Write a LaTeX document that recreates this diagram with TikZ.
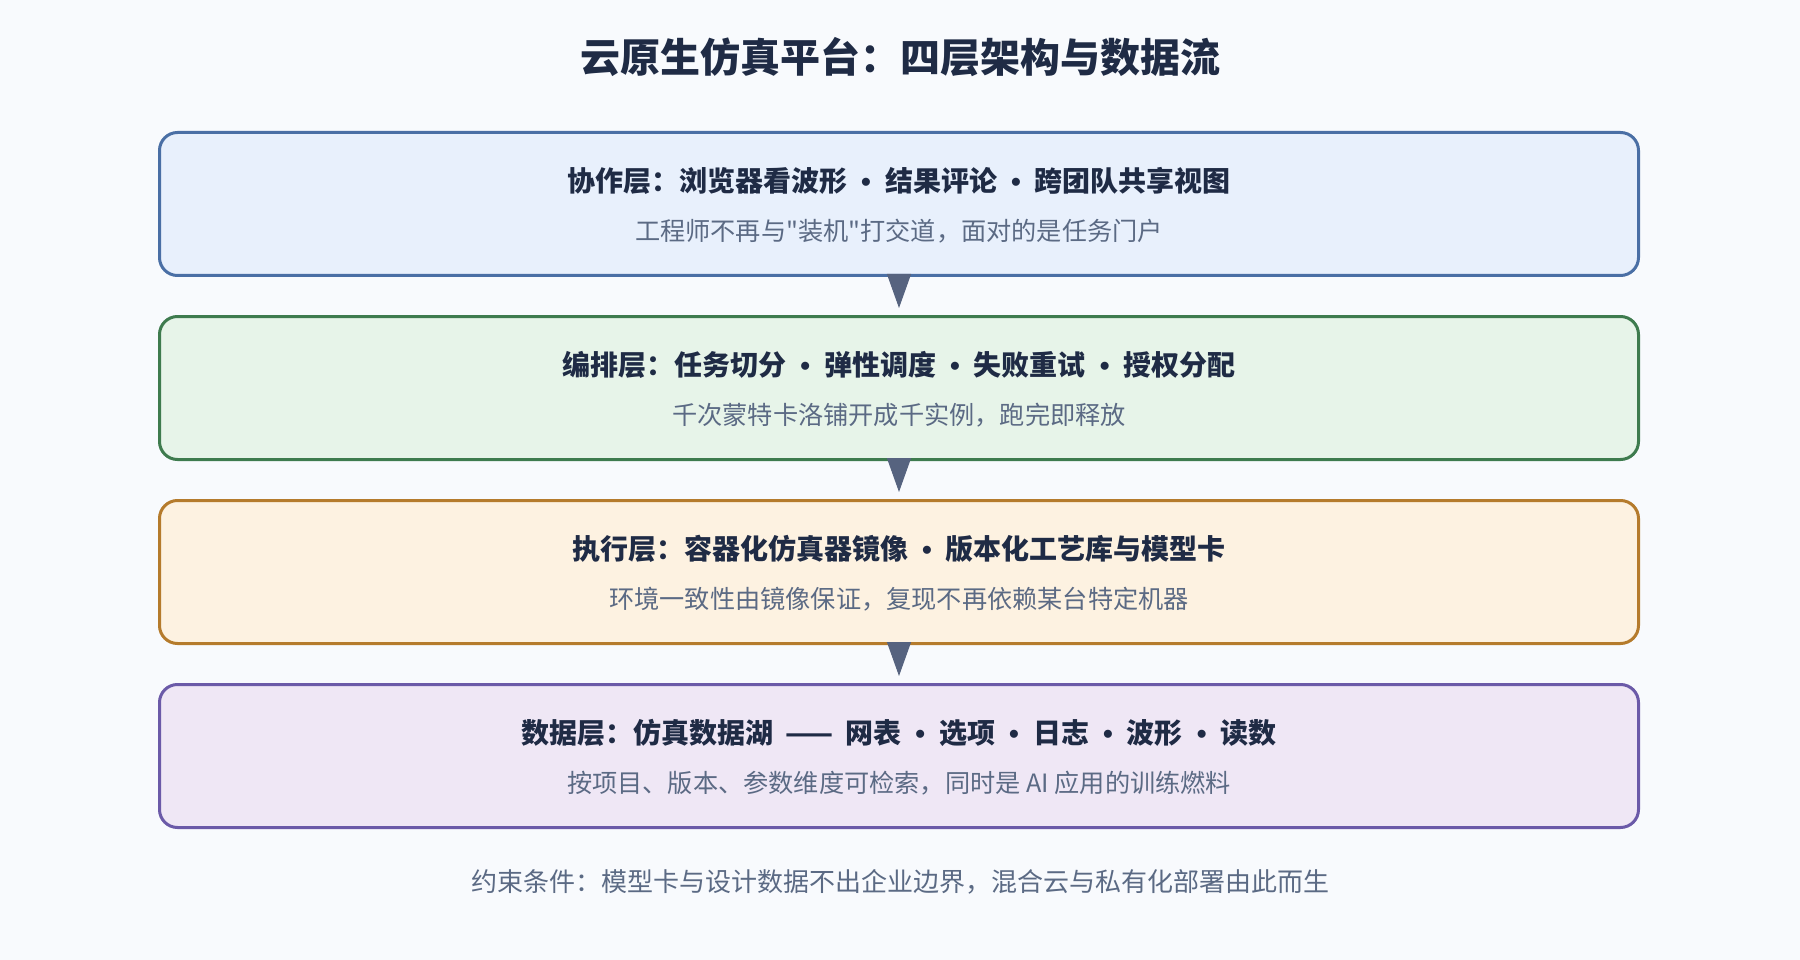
\documentclass[tikz,border=0pt]{standalone}
\usepackage{fontspec}
\setmainfont{Noto Sans CJK SC}[Ligatures=TeXOff]
\newfontfamily\latinfont{Liberation Sans}
\usetikzlibrary{arrows.meta,positioning}

% 配色
\definecolor{bgcol}{HTML}{F8FAFD}
\definecolor{inkdark}{HTML}{1F2B45}
\definecolor{inkgray}{HTML}{5B6A84}
\definecolor{flowcol}{HTML}{56637F}
\definecolor{collabfill}{HTML}{E8F0FC}
\definecolor{collabdraw}{HTML}{4A6FA5}
\definecolor{orchfill}{HTML}{E7F4E9}
\definecolor{orchdraw}{HTML}{3E7B4E}
\definecolor{execfill}{HTML}{FDF2E1}
\definecolor{execdraw}{HTML}{B57B2C}
\definecolor{datafill}{HTML}{EFE7F5}
\definecolor{datadraw}{HTML}{6B5AA8}

% 分隔圆点
\newcommand{\dotsep}{\hspace{14pt}{\latinfont •}\hspace{14pt}}

\begin{document}
\begin{tikzpicture}[x=1pt, y=-1pt,
	layerbox/.style={draw, line width=3pt, rounded corners=18pt,
		minimum width=1479pt, minimum height=143pt, inner sep=0pt},
	headtext/.style={font=\bfseries\fontsize{28}{34}\selectfont, text=inkdark, inner sep=0pt},
	subtext/.style={font=\fontsize{25.2}{31}\selectfont, text=inkgray, inner sep=0pt},
	flow/.style={draw=flowcol, line width=1pt,
		-{Triangle[length=34pt, width=24pt]}, shorten >=7pt}]
	% ==================================================
	% 1. 参数设置
	% ==================================================
	\def\midx{899}   % 各层中心 x
	\def\firsty{204} % 第一层中心 y
	\def\pitch{184}  % 相邻两层的间距
	% ==================================================

	% 画布与背景
	\fill[bgcol] (0,0) rectangle (1800,960);
	\useasboundingbox (0,0) rectangle (1800,960);

	% 2. 标题
	\node[font=\bfseries\fontsize{40}{48}\selectfont, text=inkdark] (title) at (900,57)
		{云原生仿真平台：四层架构与数据流};

	% 3. 四个层 (方框)
	\node[layerbox, fill=collabfill, draw=collabdraw] (collab) at (\midx, \firsty) {};
	\node[layerbox, fill=orchfill, draw=orchdraw] (orch) at (\midx, \firsty+\pitch) {};
	\node[layerbox, fill=execfill, draw=execdraw] (exec) at (\midx, \firsty+2*\pitch) {};
	\node[layerbox, fill=datafill, draw=datadraw] (data) at (\midx, \firsty+3*\pitch) {};

	% 4. 每层的两行文字
	\node[headtext] (collabhead) at (\midx, \firsty-23)
		{协作层：浏览器看波形\dotsep 结果评论\dotsep 跨团队共享视图};
	\node[subtext] (collabsub) at (\midx, \firsty+27)
		{工程师不再与"装机"打交道，面对的是任务门户};

	\node[headtext] (orchhead) at (\midx, \firsty+\pitch-23)
		{编排层：任务切分\dotsep 弹性调度\dotsep 失败重试\dotsep 授权分配};
	\node[subtext] (orchsub) at (\midx, \firsty+\pitch+27)
		{千次蒙特卡洛铺开成千实例，跑完即释放};

	\node[headtext] (exechead) at (\midx, \firsty+2*\pitch-23)
		{执行层：容器化仿真器镜像\dotsep 版本化工艺库与模型卡};
	\node[subtext] (execsub) at (\midx, \firsty+2*\pitch+27)
		{环境一致性由镜像保证，复现不再依赖某台特定机器};

	\node[headtext] (datahead) at (\midx, \firsty+3*\pitch-23)
		{数据层：仿真数据湖\hspace{12pt}——\hspace{12pt}网表\dotsep 选项\dotsep 日志\dotsep 波形\dotsep 读数};
	\node[subtext] (datasub) at (\midx, \firsty+3*\pitch+27)
		{按项目、版本、参数维度可检索，同时是 AI 应用的训练燃料};

	% 5. 层间数据流 (箭头)
	\draw[flow] (collab.south) -- (orch.north);
	\draw[flow] (orch.south) -- (exec.north);
	\draw[flow] (exec.south) -- (data.north);

	% 6. 约束条件
	\node[font=\fontsize{26}{32}\selectfont, text=inkgray] (constraint) at (900,882)
		{约束条件：模型卡与设计数据不出企业边界，混合云与私有化部署由此而生};

\end{tikzpicture}
\end{document}
